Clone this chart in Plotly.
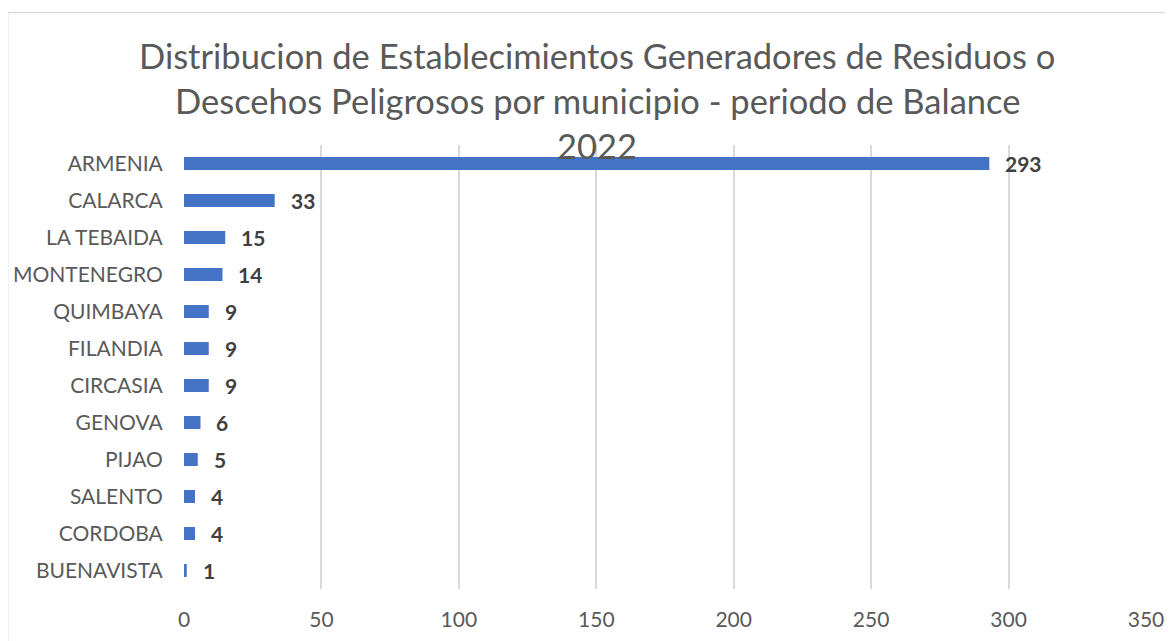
import plotly.graph_objects as go

municipios = ["ARMENIA", "CALARCA", "LA TEBAIDA", "MONTENEGRO", "QUIMBAYA", "FILANDIA",
              "CIRCASIA", "GENOVA", "PIJAO", "SALENTO", "CORDOBA", "BUENAVISTA"]
valores = [293, 33, 15, 14, 9, 9, 9, 6, 5, 4, 4, 1]
x_ticks = [0, 50, 100, 150, 200, 250, 300, 350]
title_lines = ["Distribucion de Establecimientos Generadores de Residuos o",
               "Descehos Peligrosos por municipio - periodo de Balance",
               "2022"]

OFF = 8  # page body margin
W, H = 1173 - OFF, 641 - OFF
L, R, T, B = 184 - OFF, 26.5, 145 - OFF, 52
pw, ph = W - L - R, H - T - B

FONT = "Lato"
fig = go.Figure()
fig.add_trace(go.Bar(
    x=valores, y=municipios, orientation="h",
    marker=dict(color="#4472C4", line=dict(width=0)),
    width=0.35, cliponaxis=False, hoverinfo="skip",
))

for m, v in zip(municipios, valores):
    fig.add_annotation(x=v, y=m, text=f"<b>{v}</b>", showarrow=False,
                       xanchor="left", yanchor="middle", xshift=14,
                       font=dict(family=FONT, size=21, color="#404040"))

def px2px(xp):
    return (xp - OFF - L) / pw

def py2py(yp):
    return (H - B - (yp - OFF)) / ph

for i, line in enumerate(title_lines):
    fig.add_annotation(xref="paper", yref="paper", x=px2px(597.5), y=py2py(55 + 45 * i),
                       text=line, showarrow=False, xanchor="center", yanchor="middle",
                       font=dict(family=FONT, size=34.5, color="#595959"))

fig.add_shape(type="rect", xref="paper", yref="paper",
              x0=px2px(7.5), x1=px2px(1200), y0=py2py(12.5), y1=py2py(700),
              line=dict(color="#d9d9d9", width=1.5), fillcolor="rgba(0,0,0,0)", layer="below")

fig.update_layout(
    width=W, height=H,
    margin=dict(l=L, r=R, t=T, b=B, pad=0, autoexpand=False),
    paper_bgcolor="white", plot_bgcolor="white",
    showlegend=False,
    xaxis=dict(range=[0, 350], tickvals=x_ticks, showgrid=True, gridcolor="#d9d9d9", gridwidth=1.5,
               zeroline=False, showline=False, ticks="outside", ticklen=12, tickcolor="rgba(0,0,0,0)",
               tickfont=dict(family=FONT, size=21, color="#595959"), fixedrange=True, automargin=False),
    yaxis=dict(autorange="reversed", showgrid=False, zeroline=False, showline=False,
               ticks="outside", ticklen=16, tickcolor="rgba(0,0,0,0)",
               tickfont=dict(family=FONT, size=21, color="#595959"), fixedrange=True, automargin=False),
)
fig.write_html("out.html")
